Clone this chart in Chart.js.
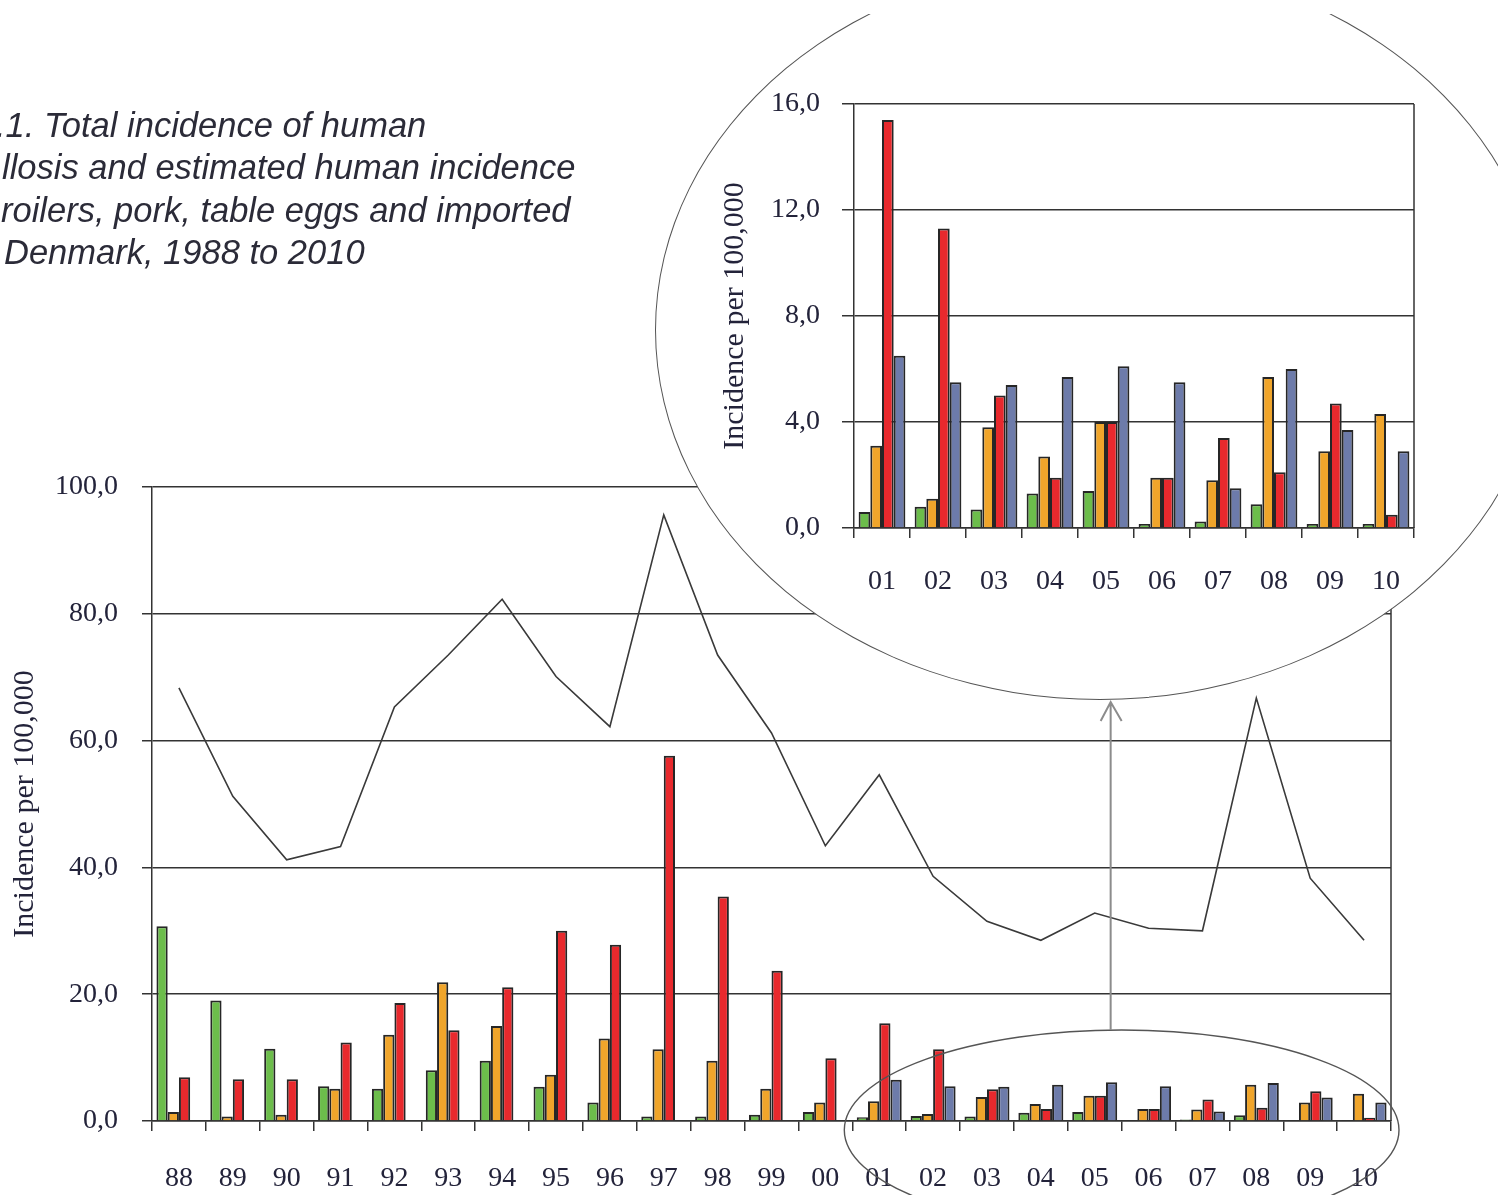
<!DOCTYPE html>
<html>
<head>
<meta charset="utf-8">
<script src="https://cdn.jsdelivr.net/npm/chart.js@4.4.1/dist/chart.umd.min.js"></script>
<style>
  html, body { margin: 0; padding: 0; background: #fff; }
  body { width: 1498px; height: 1195px; position: relative; overflow: hidden; }
  #main { position: absolute; left: 0; top: 0; }
  #lens { position: absolute; left: 655px; top: -40px; width: 890px; height: 740px;
          border-radius: 50%; background: #fff; border: 1.5px solid #555; box-sizing: border-box; }
  #inset { position: absolute; left: 640px; top: 0; }
  #topband { position: absolute; left: 0; top: 0; width: 1498px; height: 14px; background: #fff; }
  .title { position: absolute; font-family: "Liberation Sans", sans-serif; font-style: italic;
           font-size: 34.5px; color: #2b2b38; white-space: nowrap; line-height: 42px; }
</style>
</head>
<body>
<canvas id="main" width="1498" height="1195"></canvas>
<div id="lens"></div>
<canvas id="inset" width="858" height="700"></canvas>
<div id="topband"></div>
<div class="title" style="left:-4px; top:104px;">.1. Total incidence of human</div>
<div class="title" style="left:2px; top:146px;">llosis and estimated human incidence</div>
<div class="title" style="left:1px; top:189px;">roilers, pork, table eggs and imported</div>
<div class="title" style="left:4px; top:231px;">Denmark, 1988 to 2010</div>
<script>
// years 1988-2010
const years = ["88", "89", "90", "91", "92", "93", "94", "95", "96", "97", "98", "99",
  "00", "01", "02", "03", "04", "05", "06", "07", "08", "09", "10"];

// incidence per 100,000
const broilers = [30.7, 19.0, 11.4, 5.5, 5.1, 8.0, 9.5, 5.4, 2.9, 0.7, 0.7, 1.0,
  1.4, 0.6, 0.8, 0.7, 1.3, 1.4, 0.15, 0.25, 0.9, 0.15, 0.15];
const pork = [1.4, 0.7, 1.0, 5.1, 13.6, 21.9, 15.0, 7.3, 13.0, 11.3, 9.5, 5.1,
  2.9, 3.1, 1.1, 3.8, 2.7, 4.0, 1.9, 1.8, 5.7, 2.9, 4.3];
const tableEggs = [6.9, 6.6, 6.6, 12.4, 18.6, 14.3, 21.1, 30.0, 27.8, 57.6, 35.4, 23.7,
  9.9, 15.4, 11.3, 5.0, 1.9, 4.0, 1.9, 3.4, 2.1, 4.7, 0.5];
const imported = [null, null, null, null, null, null, null, null, null, null, null, null,
  null, 6.5, 5.5, 5.4, 5.7, 6.1, 5.5, 1.5, 6.0, 3.7, 2.9];
const total = [68.3, 51.2, 41.2, 43.3, 65.3, 73.5, 82.3, 70.1, 62.2, 95.6, 73.5, 61.2,
  43.4, 54.6, 38.6, 31.5, 28.5, 32.8, 30.4, 30.0, 66.7, 38.3, 28.5];

// the zoomed part starts at 2001
const zoomFrom = years.indexOf("01");

const GREEN = "#6cbd4b";
const ORANGE = "#f0a52b";
const RED = "#e8292d";
const BLUE = "#6d7baa";

Chart.defaults.font.family = "'Liberation Serif', 'Times New Roman', serif";
Chart.defaults.font.size = 28;
Chart.defaults.color = "#23233a";

const comma = (v) => v.toFixed(1).replace(".", ",");

function barSets(from) {
  return [
    { label: "Broilers", data: broilers.slice(from), backgroundColor: GREEN },
    { label: "Pork", data: pork.slice(from), backgroundColor: ORANGE },
    { label: "Table eggs", data: tableEggs.slice(from), backgroundColor: RED },
    { label: "Imported", data: imported.slice(from), backgroundColor: BLUE },
  ];
}

// right border of the plot + the ring and arrow pointing to the zoom
const mainFrame = {
  id: "mainFrame",
  afterDraw(chart) {
    const { ctx, chartArea: a } = chart;
    ctx.save();
    ctx.strokeStyle = "#333";
    ctx.lineWidth = 1.5;
    ctx.beginPath();
    ctx.moveTo(a.right, a.top);
    ctx.lineTo(a.right, a.bottom);
    ctx.stroke();

    const xs = chart.scales.x;
    const half = (xs.getPixelForValue(1) - xs.getPixelForValue(0)) / 2;
    const left = xs.getPixelForValue(zoomFrom) - half;
    const cx = (left + a.right) / 2;
    const rx = (a.right - left) / 2 + 8;
    const cy = chart.scales.y.getPixelForValue(0) + 9;
    const ry = 100;
    ctx.strokeStyle = "#555";
    ctx.lineWidth = 1.4;
    ctx.beginPath();
    ctx.ellipse(cx, cy, rx, ry, 0, 0, Math.PI * 2);
    ctx.stroke();

    // arrow up to the lens
    const ax = cx - 11;
    ctx.strokeStyle = "#8c8c8c";
    ctx.lineWidth = 2;
    ctx.beginPath();
    ctx.moveTo(ax, cy - ry);
    ctx.lineTo(ax, 702);
    ctx.moveTo(ax - 10, 721);
    ctx.lineTo(ax, 702);
    ctx.lineTo(ax + 11, 721);
    ctx.stroke();
    ctx.restore();
  },
};

const insetFrame = {
  id: "insetFrame",
  afterDraw(chart) {
    const { ctx, chartArea: a } = chart;
    ctx.save();
    ctx.strokeStyle = "#333";
    ctx.lineWidth = 1.5;
    ctx.beginPath();
    ctx.moveTo(a.right, a.top);
    ctx.lineTo(a.right, a.bottom);
    ctx.stroke();
    ctx.restore();
  },
};

const barStyle = {
  categoryPercentage: 0.835,
  barPercentage: 1,
  borderColor: "#262626",
  borderWidth: 2,
};

let mainChart = new Chart(document.getElementById("main"), {
  type: "bar",
  data: {
    labels: years,
    datasets: [
      {
        type: "line",
        label: "Total",
        data: total,
        borderColor: "#3a3a3a",
        borderWidth: 1.6,
        pointRadius: 0,
        tension: 0,
        order: -1,
      },
      ...barSets(0),
    ],
  },
  options: {
    responsive: false,
    animation: false,
    layout: { padding: { left: 0, top: 487, right: 107, bottom: 0 } },
    datasets: { bar: barStyle },
    plugins: { legend: { display: false }, tooltip: { enabled: false } },
    scales: {
      x: {
        grid: { offset: true, drawOnChartArea: false, tickLength: 10, tickColor: "#333", lineWidth: 1.5 },
        border: { color: "#333", width: 1.5 },
        ticks: { padding: 31, maxRotation: 0, autoSkip: false },
        afterFit: (s) => { s.height = 74; },
      },
      y: {
        min: 0,
        max: 100,
        ticks: { stepSize: 20, padding: 24, callback: comma },
        grid: { color: "#333", lineWidth: 1.5, tickLength: 10 },
        border: { color: "#333", width: 1.5 },
        title: { display: true, text: "Incidence per 100,000", font: { size: 30 }, padding: { top: 7, bottom: 0 } },
        afterFit: (s) => { s.width = 152; },
      },
    },
  },
  plugins: [mainFrame],
});

let insetChart = new Chart(document.getElementById("inset"), {
  type: "bar",
  data: {
    labels: years.slice(zoomFrom),
    datasets: barSets(zoomFrom),
  },
  options: {
    responsive: false,
    animation: false,
    layout: { padding: { left: 70, top: 104, right: 84, bottom: 100 } },
    datasets: { bar: barStyle },
    plugins: { legend: { display: false }, tooltip: { enabled: false } },
    scales: {
      x: {
        grid: { offset: true, drawOnChartArea: false, tickLength: 10, tickColor: "#333", lineWidth: 1.5 },
        border: { color: "#333", width: 1.5 },
        ticks: { padding: 27, maxRotation: 0, autoSkip: false },
        afterFit: (s) => { s.height = 72; },
      },
      y: {
        min: 0,
        max: 16,
        ticks: { stepSize: 4, padding: 22, callback: comma },
        grid: { color: "#333", lineWidth: 1.5, tickLength: 12 },
        border: { color: "#333", width: 1.5 },
        title: { display: true, text: "Incidence per 100,000", font: { size: 30 }, padding: { top: 7, bottom: 0 } },
        afterFit: (s) => { s.width = 144; },
      },
    },
  },
  plugins: [insetFrame],
});
</script>
</body>
</html>
